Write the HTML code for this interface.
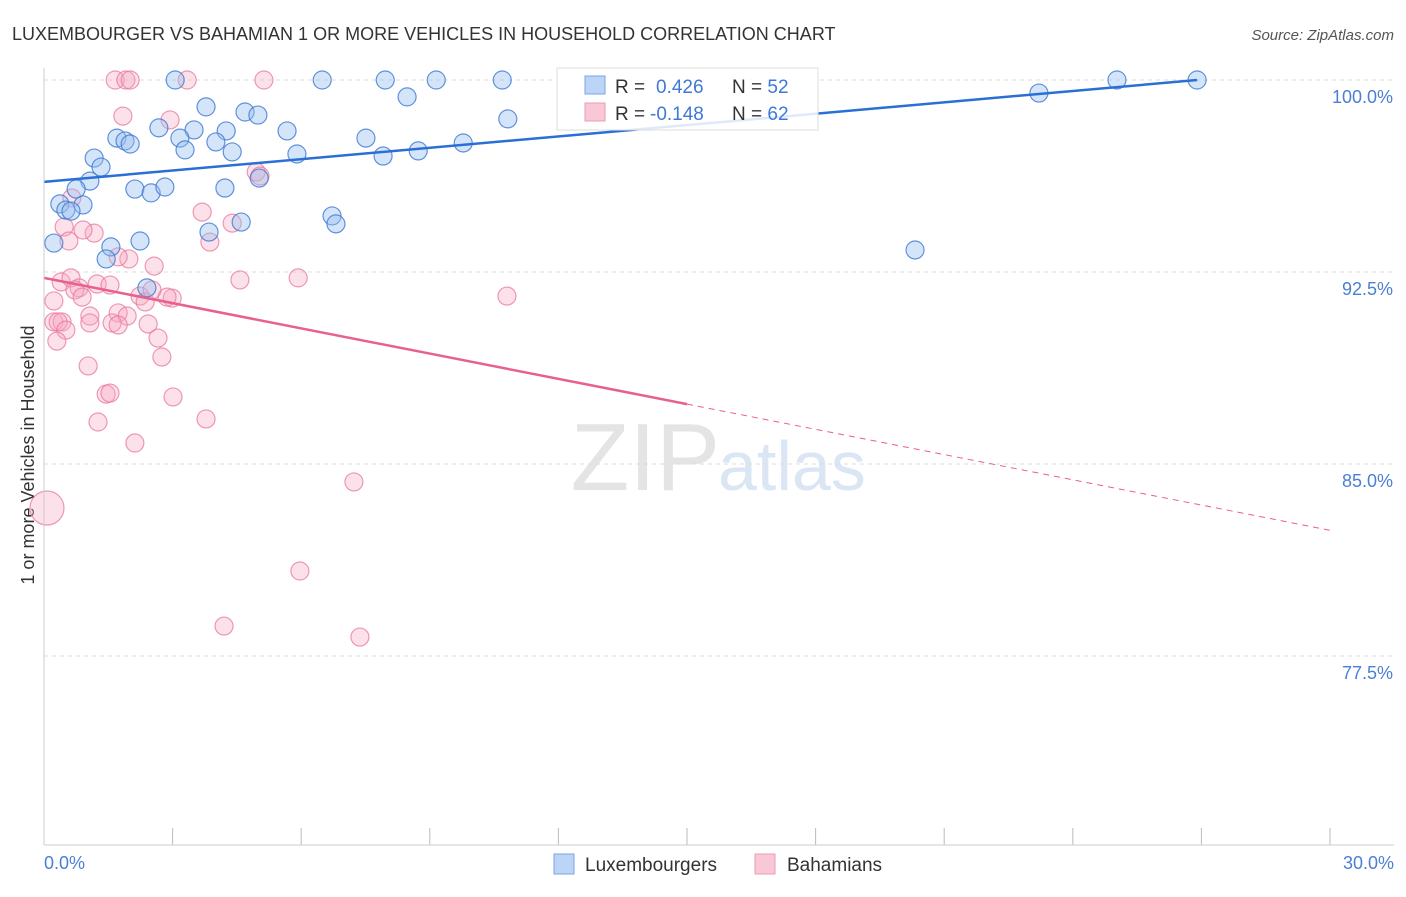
<!DOCTYPE html>
<html><head><meta charset="utf-8"><style>
body{margin:0;background:#fff;font-family:"Liberation Sans",sans-serif}
svg text{font-family:"Liberation Sans",sans-serif}
</style></head><body>
<svg width="1406" height="892" id="c">
<text x="12" y="40" font-size="18" fill="#333">LUXEMBOURGER VS BAHAMIAN 1 OR MORE VEHICLES IN HOUSEHOLD CORRELATION CHART</text>
<text x="1394" y="40" font-size="15" fill="#555" font-style="italic" text-anchor="end">Source: ZipAtlas.com</text>
<text x="34" y="455" font-size="18" fill="#333" text-anchor="middle" transform="rotate(-90 34 455)">1 or more Vehicles in Household</text>
<text x="720" y="490" font-size="96" fill="#e4e4e4" text-anchor="end" font-family="Liberation Serif">ZIP</text>
<text x="718" y="490" font-size="70" fill="#dbe6f5">atlas</text>
<g id="grid"></g><g id="marks"></g><g id="trends"></g>
<line x1="44" y1="68" x2="44" y2="845" stroke="#ccc"/>
<line x1="44" y1="845" x2="1394" y2="845" stroke="#ccc"/>
<text x="44" y="869" font-size="18" fill="#4a7fd4">0.0%</text>
<text x="1394" y="869" font-size="18" fill="#4a7fd4" text-anchor="end">30.0%</text>
<g>
<rect x="557" y="68" width="261" height="62" fill="rgba(255,255,255,0.85)" stroke="#ddd"/>
<rect x="585" y="76" width="20" height="18" fill="#bcd4f5" stroke="#7aa5e8"/>
<rect x="585" y="103" width="20" height="18" fill="#f9c8d6" stroke="#ee9ab3"/>
<text x="615" y="93" font-size="19" fill="#333">R = <tspan fill="#3f78d6" x="656">0.426</tspan><tspan x="732">N = </tspan><tspan fill="#3f78d6">52</tspan></text>
<text x="615" y="120" font-size="19" fill="#333">R = <tspan fill="#3f78d6" x="650">-0.148</tspan><tspan x="732">N = </tspan><tspan fill="#3f78d6">62</tspan></text>
</g>
<g>
<rect x="554" y="854" width="20" height="20" fill="#bcd4f5" stroke="#7aa5e8"/>
<text x="585" y="871" font-size="19" fill="#333">Luxembourgers</text>
<rect x="755" y="854" width="20" height="20" fill="#f9c8d6" stroke="#ee9ab3"/>
<text x="787" y="871" font-size="19" fill="#333">Bahamians</text>
</g>
</svg>
<script>
const yTicks=[100,92.5,85,77.5];
const yTickLabels=["100.0%","92.5%","85.0%","77.5%"];
const xTicks=[0,3,6,9,12,15,18,21,24,27,30];
const luxX=[3.06,6.49,7.96,9.15,10.69,25.03,26.9,8.47,23.21,3.78,4.69,4.99,10.82,2.68,3.5,4.25,5.67,1.7,1.89,2.01,3.17,4.01,7.51,9.78,3.29,4.39,5.9,7.91,8.73,1.17,1.33,1.07,0.75,2.12,2.5,2.82,4.22,5.02,0.37,0.91,0.51,0.63,6.72,6.81,4.6,3.85,0.23,2.24,1.56,1.45,20.32,2.4];
const luxY=[100,100,100,100,100,100,100,99.34,99.49,98.95,98.75,98.63,98.48,98.13,98.05,98.01,98.01,97.73,97.62,97.5,97.73,97.58,97.73,97.54,97.27,97.19,97.11,97.03,97.23,96.95,96.6,96.05,95.74,95.74,95.59,95.82,95.78,96.17,95.16,95.12,94.92,94.88,94.69,94.38,94.45,94.06,93.63,93.71,93.48,93.01,93.36,91.88];
const bahX=[1.66,1.91,2.01,3.34,5.13,1.84,2.94,4.95,5.04,0.65,0.47,1.17,0.91,3.69,4.39,3.87,0.58,1.98,2.57,1.73,4.57,5.93,0.4,0.63,0.82,1.24,0.72,0.89,1.54,2.24,2.99,2.87,10.8,0.23,0.23,0.42,1.07,1.73,2.36,0.33,1.94,1.59,2.43,0.51,0.3,2.66,2.75,1.03,1.45,1.54,3.01,1.26,3.78,2.12,7.23,5.97,4.2,7.37,1.73,1.07,2.52,0.07];
const bahY=[100,100,100,100,100,98.59,98.44,96.41,96.25,95.39,94.26,94.02,94.14,94.84,94.41,93.67,93.71,93.01,92.73,93.09,92.19,92.27,92.11,92.27,91.88,92.03,91.8,91.52,91.99,91.56,91.48,91.52,91.56,91.37,90.55,90.55,90.78,90.9,91.33,90.55,90.78,90.51,90.47,90.23,89.8,89.92,89.18,88.83,87.73,87.77,87.62,86.64,86.76,85.82,84.3,80.82,78.67,78.24,90.43,90.51,91.8,83.28];
const luxTrend=[96.02,100];const luxTrendX=[0,26.9];
const bahTrend=[92.27,87.34,82.41];const bahTrendX=[0,15,30];
const X=v=>44+v*1286/30, Y=v=>80+(100-v)*25.6;
const NS="http://www.w3.org/2000/svg";
function mk(t,a,p){const e=document.createElementNS(NS,t);for(const k in a)e.setAttribute(k,a[k]);p.appendChild(e);return e;}
const g=document.getElementById('grid'),m=document.getElementById('marks'),tr=document.getElementById('trends');
yTicks.forEach((v,i)=>{
 const l=mk('line',{x1:44,x2:1394,y1:Y(v),y2:Y(v),stroke:'#ddd','stroke-dasharray':'4,4'},g);
 
 
 const t=mk('text',{x:1393,y:Y(v)+23,'font-size':18,fill:'#4a7fd4','text-anchor':'end'},g);
 t.textContent=yTickLabels[i];
 
 
});
xTicks.forEach(v=>{
 const l=mk('line',{x1:X(v),x2:X(v),y1:828,y2:845,stroke:'#bbb'},g);
 
 
});
bahX.forEach((v,i)=>{
 const c=mk('circle',{cx:X(v),cy:Y(bahY[i]),r:i==bahX.length-1?17:9,fill:'rgba(246,170,195,0.35)',stroke:'rgba(232,120,155,0.75)','stroke-width':1.2},m);
 
 
});
luxX.forEach((v,i)=>{
 const c=mk('circle',{cx:X(v),cy:Y(luxY[i]),r:9,fill:'rgba(150,190,240,0.4)',stroke:'rgba(60,120,210,0.8)','stroke-width':1.2},m);
 
 
});
const lt=mk('line',{x1:X(luxTrendX[0]),y1:Y(luxTrend[0]),x2:X(luxTrendX[1]),y2:Y(luxTrend[1]),stroke:'#2a6fd6','stroke-width':2.5},tr);


const bt=mk('line',{x1:X(bahTrendX[0]),y1:Y(bahTrend[0]),x2:X(bahTrendX[1]),y2:Y(bahTrend[1]),stroke:'#e8608c','stroke-width':2.5},tr);


const bd=mk('line',{x1:X(bahTrendX[1]),y1:Y(bahTrend[1]),x2:X(bahTrendX[2]),y2:Y(bahTrend[2]),stroke:'#e8608c','stroke-width':1,'stroke-dasharray':'6,5'},tr);


</script>
</body></html>
